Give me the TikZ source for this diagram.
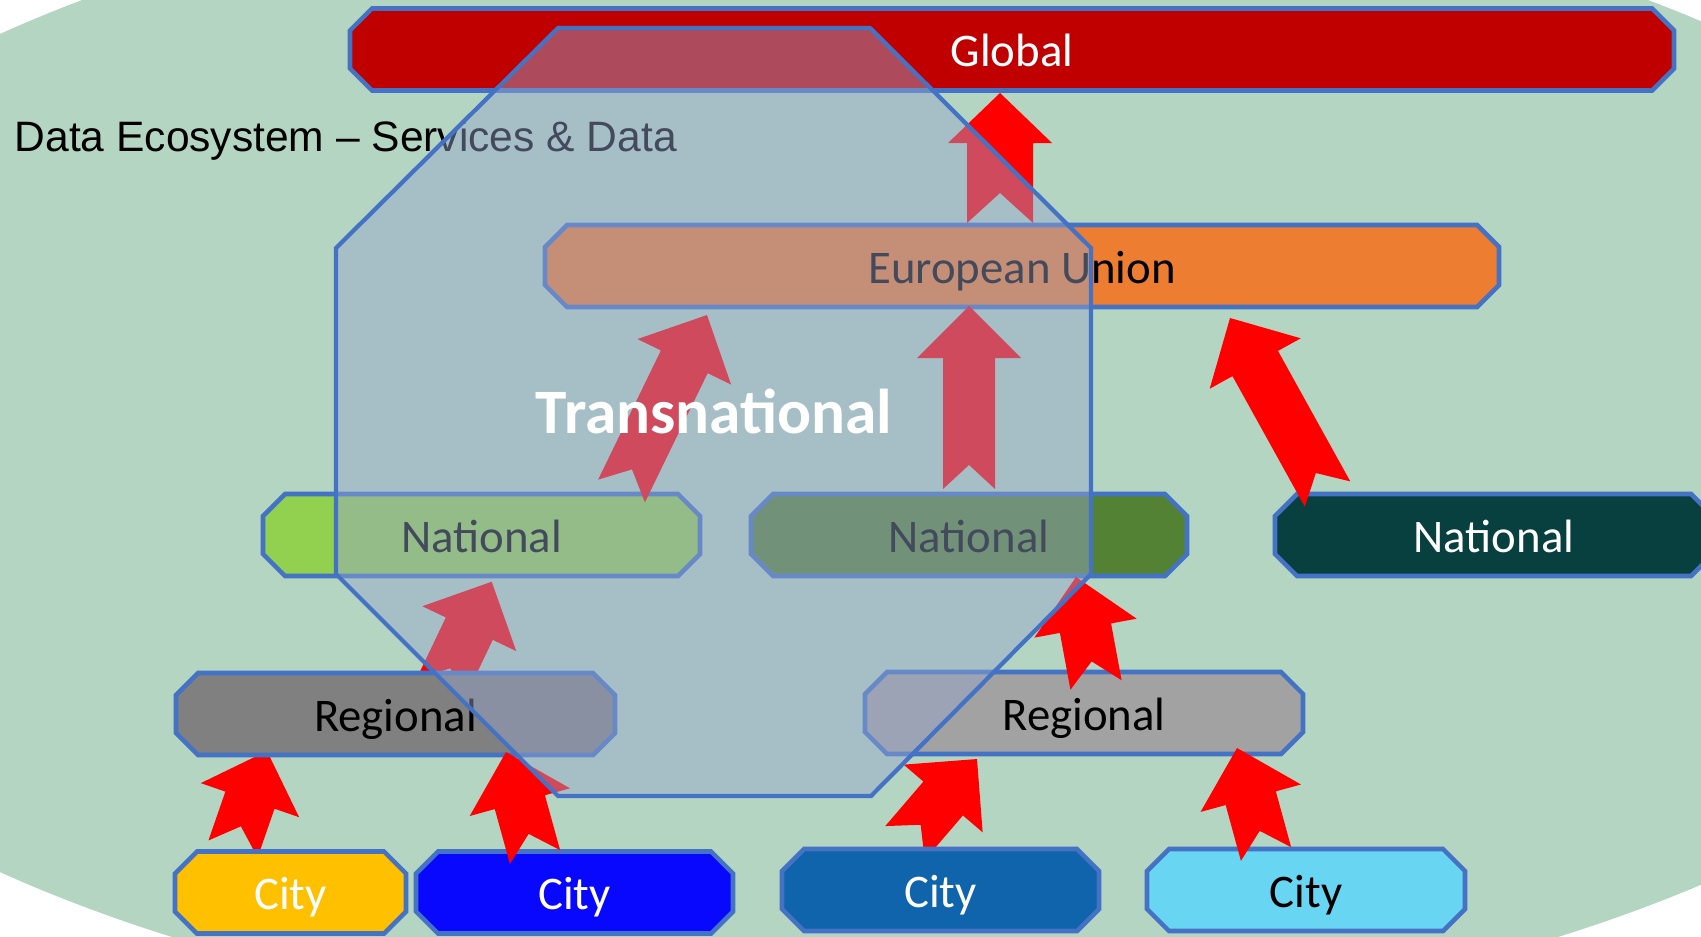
\documentclass[tikz,border=0pt]{standalone}
\usepackage{fontspec}
\setmainfont{Carlito}
\newfontfamily\arialfont{Liberation Sans}
\usetikzlibrary{calc}

\definecolor{bggreen}{RGB}{180,213,194}
\definecolor{edgeblue}{RGB}{68,114,196}
\definecolor{octfill}{RGB}{150,165,205}
\definecolor{globalred}{RGB}{192,0,0}
\definecolor{euorange}{RGB}{237,125,49}
\definecolor{natA}{RGB}{146,208,80}
\definecolor{natB}{RGB}{84,130,53}
\definecolor{natC}{RGB}{7,64,62}
\definecolor{regA}{RGB}{128,128,128}
\definecolor{regB}{RGB}{162,162,162}
\definecolor{cityA}{RGB}{255,192,0}
\definecolor{cityB}{RGB}{8,8,255}
\definecolor{cityC}{RGB}{15,100,171}
\definecolor{cityD}{RGB}{104,214,242}

% notched block arrow from tail #1 to tip #2
\newcommand{\arShaft}{0.26cm}
\newcommand{\arHead}{0.52cm}
\newcommand{\arLen}{0.52cm}
\newcommand{\arNotch}{0.24cm}
\newcommand{\uparr}[2]{%
  \path ($(#2)!\arLen!(#1)$) coordinate (hb) ($(#1)!\arNotch!(#2)$) coordinate (nt);
  \fill[red] ($(#1)!\arShaft!90:(#2)$) -- ($(hb)!\arShaft!90:(#2)$) -- ($(hb)!\arHead!90:(#2)$) -- (#2)
    -- ($(hb)!\arHead!-90:(#2)$) -- ($(hb)!\arShaft!-90:(#2)$) -- ($(#1)!\arShaft!-90:(#2)$) -- (nt) -- cycle;}
% chamfered box: name, x, y, half width, fill, text colour, label
\newcommand{\chbox}[7]{%
  \filldraw[boxline, fill=#5] ({#2-#4+22},{#3-41}) -- ({#2+#4-22},{#3-41}) -- ({#2+#4},{#3-19}) -- ({#2+#4},{#3+19})
    -- ({#2+#4-22},{#3+41}) -- ({#2-#4+22},{#3+41}) -- ({#2-#4},{#3+19}) -- ({#2-#4},{#3-19}) -- cycle;
  \node[boxtext, text=#6] (#1) at (#2,#3) {#7};}

\begin{document}
\begin{tikzpicture}[x=0.01cm, y=-0.01cm,
	boxline/.style={draw=edgeblue, line width=1.3pt},
	boxtext/.style={inner sep=0pt, font=\fontsize{13.3}{16}\selectfont, text height=10.5pt, text depth=0.8pt}]
	\useasboundingbox (0,0) rectangle (1701,936);
	\clip (0,0) rectangle (1701,936);
	\fill[bggreen] (865,453) ellipse [x radius=12.45cm, y radius=5.82cm];
	\node[anchor=base west, inner sep=0pt, font=\arialfont\fontsize{12.1}{14}\selectfont] (title) at (14,151) {Data Ecosystem – Services \& Data};
	% arrow ends
	\coordinate (EGt) at (1000,223);	\coordinate (EGh) at (1000,93);
	\coordinate (NEt) at (969,489);		\coordinate (NEh) at (969,306);
	\coordinate (AEt) at (621.5,491);	\coordinate (AEh) at (707,315);
	\coordinate (CEt) at (1327.5,494);	\coordinate (CEh) at (1230,318);
	\coordinate (RAt) at (440,690);		\coordinate (RAh) at (491.7,581.7);
	\coordinate (RBt) at (1096,685);	\coordinate (RBh) at (1076,577);
	\coordinate (CAt) at (233,849);		\coordinate (CAh) at (267,751);
	\coordinate (CBt) at (535,857);		\coordinate (CBh) at (506,752);
	\coordinate (CCt) at (905,843);		\coordinate (CCh) at (977,759);
	\coordinate (CDt) at (1266,854);	\coordinate (CDh) at (1237,748);
	\uparr{RAt}{RAh}
	\uparr{CAt}{CAh}
	\uparr{CCt}{CCh}
	% boxes
	\chbox{gl}{1012}{49.5}{662}{globalred}{white}{Global}
	\chbox{eu}{1022}{266}{477}{euorange}{black}{European Union}
	\chbox{na}{481.5}{535}{218.5}{natA}{black}{National}
	\chbox{nb}{969}{535}{218}{natB}{black}{National}
	\chbox{nc}{1494}{535}{219}{natC}{white}{National}
	\chbox{ra}{395.5}{714}{219.5}{regA}{black}{Regional}
	\chbox{rb}{1084}{713}{219}{regB}{black}{Regional}
	\chbox{ca}{290.5}{892.5}{115.5}{cityA}{white}{City}
	\chbox{cb}{574.5}{892.5}{158.5}{cityB}{white}{City}
	\chbox{cc}{940.5}{890}{158.5}{cityC}{white}{City}
	\chbox{cd}{1306}{890}{159}{cityD}{black}{City}
	{\renewcommand{\arShaft}{0.33cm}\renewcommand{\arLen}{0.5cm}\renewcommand{\arNotch}{0.3cm}\uparr{EGt}{EGh}}
	\uparr{NEt}{NEh}
	\uparr{AEt}{AEh}
	\uparr{CEt}{CEh}
	\uparr{RBt}{RBh}
	\uparr{CBt}{CBh}
	\uparr{CDt}{CDh}
	% transnational overlay
	\filldraw[fill=octfill, fill opacity=0.45, draw=edgeblue, line width=1.2pt] (558,28) -- (870,28) -- (1091,248) -- (1091,574) -- (871,796) -- (558,796) -- (336,574) -- (336,248) -- cycle;
	\node[anchor=base, text=white, font=\bfseries\fontsize{18}{22}\selectfont] (trans) at (714,433) {Transnational};
\end{tikzpicture}
\end{document}
